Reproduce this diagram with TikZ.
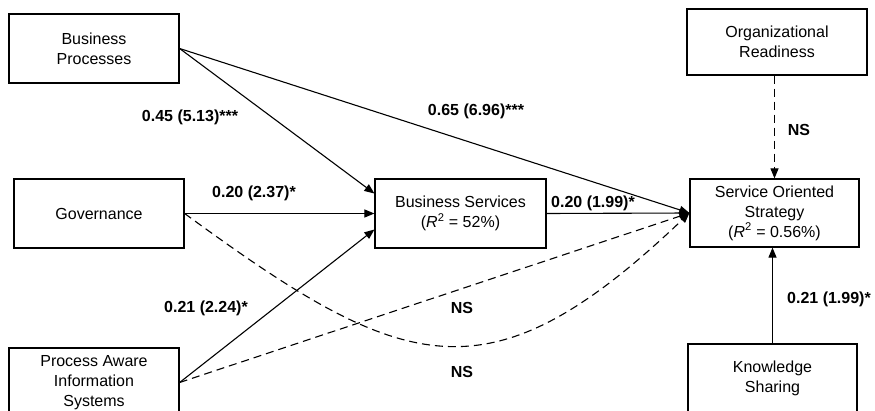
\documentclass[tikz,border=0pt]{standalone}
\usepackage{fontspec}
\setmainfont{Liberation Sans}
\usetikzlibrary{arrows.meta}
\tikzset{
    box/.style={draw, line width=1.2pt, minimum width=170pt, minimum height=69pt,
        align=center, inner sep=2pt, font=\fontsize{16}{20}\selectfont},
    coef/.style={font=\fontsize{16}{20}\selectfont\bfseries},
    path/.style={line width=1.1pt, -{Triangle[length=10pt,width=8pt]}},
    nspath/.style={path, dash pattern=on 8pt off 5pt}
}
\newcommand{\rsq}{\textit{R}\textsuperscript{2}}
\begin{document}
\begin{tikzpicture}[x=1pt,y=-1pt]
            \clip (0,0) rectangle (875,411);
            % Constructs
            \node[box] (bp) at (94,48.5) {Business\\Processes};
            \node[box] (gov) at (99,213.5) {Governance};
            \node[box] (pais) at (94,382.5) {Process Aware\\Information\\Systems};
            \node[box, minimum width=171pt] (bs) at (460.5,213.5) {Business Services\\(\rsq{} = 52\%)};
            \node[box, minimum width=180pt, minimum height=66pt] (or) at (777,42) {Organizational\\Readiness};
            \node[box, minimum width=169pt, minimum height=68pt] (sos) at (774.5,213) {Service Oriented\\Strategy\\(\rsq{} = 0.56\%)};
            \node[box, minimum width=169pt] (ks) at (772.5,378.5) {Knowledge\\Sharing};
            % Significant paths
            \draw[path] (bp.east) -- ([yshift=20pt]bs.west);
            \draw[path] (bp.east) -- (sos.west);
            \draw[path] (gov.east) -- (bs.west);
            \draw[path] (pais.east) -- ([yshift=-16pt]bs.west);
            \draw[path] (bs.east) -- (sos.west);
            \draw[path] (ks.north) -- (ks.north |- sos.south);
            % Non significant paths
            \draw[nspath] (gov.east) .. controls (404,374) and (488,405) .. (sos.west);
            \draw[nspath] (pais.east) -- (sos.west);
            \draw[nspath] (sos.north |- or.south) -- (sos.north);
            % Coefficients
            \node[coef] (c1) at (190,117) {0.45 (5.13)***};
            \node[coef] (c2) at (476,111) {0.65 (6.96)***};
            \node[coef] (c3) at (254,193) {0.20 (2.37)*};
            \node[coef] (c4) at (593,203) {0.20 (1.99)*};
            \node[coef] (c5) at (206,308) {0.21 (2.24)*};
            \node[coef] (c6) at (829,299) {0.21 (1.99)*};
            \node[coef] (ns1) at (799,130) {NS};
            \node[coef] (ns2) at (462,308) {NS};
            \node[coef] (ns3) at (462,372) {NS};
        \end{tikzpicture}
\end{document}
